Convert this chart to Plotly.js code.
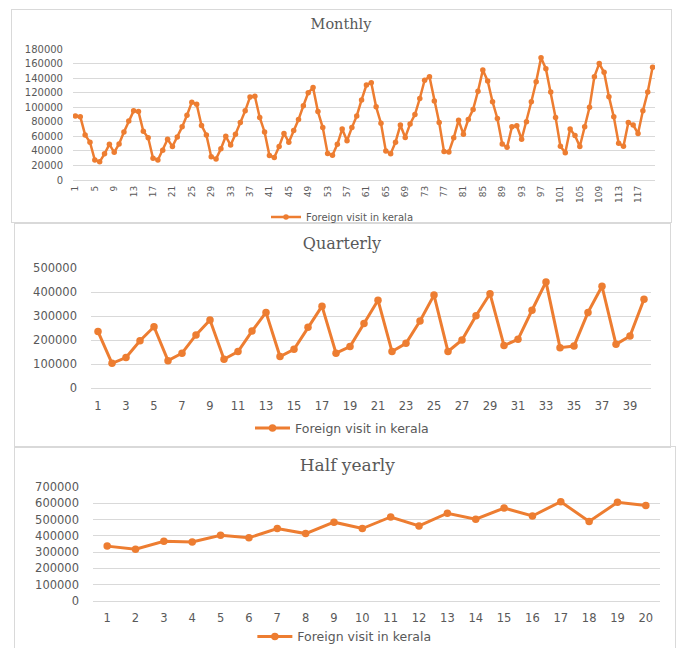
<!DOCTYPE html>
<html><head><meta charset="utf-8">
<script src="https://cdn.plot.ly/plotly-3.0.1.min.js"></script>
<style>
html,body{margin:0;padding:0;background:#fff;width:680px;height:648px;overflow:hidden;}
.frame{position:absolute;outline:1px solid #d9d9d9;}
.plot{position:absolute;}
</style></head><body>
<div class="frame" style="left:12px;top:10px;width:659px;height:212px"></div>
<div class="frame" style="left:15px;top:224px;width:655px;height:223px"></div>
<div class="frame" style="left:15px;top:447px;width:660px;height:230px"></div>
<div id="m" class="plot" style="left:12px;top:10px;width:659px;height:270px"></div>
<div id="q" class="plot" style="left:15px;top:224px;width:655px;height:270px"></div>
<div id="h" class="plot" style="left:15px;top:447px;width:660px;height:270px"></div>
<script>
// ---- Data ----
const seriesName = "Foreign visit in kerala";

const monthCats = [1,2,3,4,5,6,7,8,9,10,11,12,13,14,15,16,17,18,19,20,21,22,23,24,25,26,27,28,29,30,
31,32,33,34,35,36,37,38,39,40,41,42,43,44,45,46,47,48,49,50,51,52,53,54,55,56,57,58,59,60,
61,62,63,64,65,66,67,68,69,70,71,72,73,74,75,76,77,78,79,80,81,82,83,84,85,86,87,88,89,90,
91,92,93,94,95,96,97,98,99,100,101,102,103,104,105,106,107,108,109,110,111,112,113,114,115,116,117,118,119,120];
const monthVals = [88000,87000,62000,52000,27500,25000,36000,49000,38000,49500,66000,81000,
95000,94000,67000,58000,30000,27500,41000,56000,46000,59000,73000,89000,
107000,104000,75000,62000,32000,29000,43000,60000,48000,63000,79000,95000,
114000,115000,86000,66000,33500,31000,46000,64000,52000,68000,83000,102000,
120000,127000,94000,72000,36500,34000,49000,70000,54000,72000,88000,110000,
130500,133500,100500,78000,40000,36000,52000,75500,58500,77000,90000,112000,
137000,142000,108500,79000,39000,38500,58000,82000,63000,83000,97000,122000,
151000,136000,107500,84500,49500,45000,73000,74500,56000,80000,107500,135000,
168000,153000,121000,86000,46500,37500,70000,61000,46000,73000,100000,142000,
160000,148000,114500,87000,50500,46500,79000,75500,64000,95000,121000,155000];
const monthTicks = [1,5,9,13,17,21,25,29,33,37,41,45,49,53,57,61,65,69,73,77,81,85,89,93,97,101,105,109,113,117];
const monthTickText = ["1","5","9","13","17","21","25","29","33","37","41","45","49","53","57","61","65","69","73","77","81","85","89","93","97","101","105","109","113","117"];

const quarterCats = [1,2,3,4,5,6,7,8,9,10,11,12,13,14,15,16,17,18,19,20,21,22,23,24,25,26,27,28,29,30,31,32,33,34,35,36,37,38,39,40];
const quarterVals = [235000,103000,127000,197000,255000,114000,145000,221000,283000,120000,
152000,237000,315000,131000,161000,253000,341000,145000,173000,269000,
366000,152000,186000,279000,387000,152000,200000,301000,393000,177000,
203000,324000,442000,168000,175000,315000,424000,182000,217000,370000];
const quarterTicks = [1,3,5,7,9,11,13,15,17,19,21,23,25,27,29,31,33,35,37,39];
const quarterTickText = ["1","3","5","7","9","11","13","15","17","19","21","23","25","27","29","31","33","35","37","39"];

const halfCats = [1,2,3,4,5,6,7,8,9,10,11,12,13,14,15,16,17,18,19,20];
const halfVals = [337000,318000,367000,363000,404000,388000,445000,414000,484000,445000,
516000,461000,539000,502000,571000,522000,610000,488000,606000,586000];
const halfTickText = ["1","2","3","4","5","6","7","8","9","10","11","12","13","14","15","16","17","18","19","20"];

// ---- Style ----
const ORANGE = "#ED7D31";
const GRAY = "#595959";
const GRID = "#d9d9d9";
const SANS = "DejaVu Sans";
const SERIF = "DejaVu Serif";

function makeChart(id, cfg) {
  const trace = {
    x: cfg.x, y: cfg.y, type: "scatter", mode: "lines+markers", name: seriesName,
    line: {color: ORANGE, width: cfg.lw}, marker: {color: ORANGE, size: cfg.ms},
    showlegend: true, hoverinfo: "skip"
  };
  const layout = {
    width: cfg.w, height: cfg.h, margin: cfg.margin,
    paper_bgcolor: "rgba(0,0,0,0)", plot_bgcolor: "rgba(0,0,0,0)",
    showlegend: true,
    title: {text: cfg.title, x: cfg.titleX, xref: "paper", xanchor: "center",
            y: cfg.titleY, yref: "container", yanchor: "middle",
            font: {family: SERIF, size: cfg.titleSize, color: GRAY}},
    xaxis: {range: cfg.xrange, tickmode: "array", tickvals: cfg.tickvals, ticktext: cfg.ticktext,
            tickangle: cfg.tickangle, showgrid: false, zeroline: false, showline: false, ticks: "",
            ticklabelstandoff: cfg.xstand,
            tickfont: {family: SANS, size: cfg.xfs, color: GRAY}},
    yaxis: {range: cfg.yrange, tick0: 0, dtick: cfg.dtick, tickformat: "d",
            gridcolor: GRID, gridwidth: 1, zeroline: true, zerolinecolor: GRID, zerolinewidth: 1,
            showline: false, ticks: "", ticklabelstandoff: cfg.ystand,
            tickfont: {family: SANS, size: cfg.yfs, color: GRAY}},
    legend: {orientation: "h", x: cfg.legX, xanchor: "left", y: cfg.legY, yanchor: "middle",
             itemwidth: cfg.itemW,
             bgcolor: "rgba(0,0,0,0)", font: {family: SANS, size: cfg.legFs, color: GRAY}}
  };
  Plotly.newPlot(id, [trace], layout, {staticPlot: true, displayModeBar: false});
}

// Monthly: plot area x 73-655, y 49-180 (page px)
makeChart("m", {
  x: monthCats, y: monthVals, lw: 2.5, ms: 5.5,
  w: 659, h: 270, margin: {l: 61, r: 16, t: 39, b: 100, pad: 0},
  title: "Monthly", titleX: (341 - 73) / 582, titleY: 1 - 14 / 270, titleSize: 14.5,
  xrange: [0.5, 120.5], tickvals: monthTicks, ticktext: monthTickText, tickangle: -90, xstand: 3, xfs: 9,
  yrange: [0, 180000], dtick: 20000, ystand: 9, yfs: 10,
  legX: (266 - 73) / 582, legY: (180 - 217) / 131, legFs: 10, itemW: 30
});

// Quarterly: plot area x 91-651, y 267.5-388.3
makeChart("q", {
  x: quarterCats, y: quarterVals, lw: 3, ms: 7.5,
  w: 655, h: 270, margin: {l: 76, r: 19, t: 43.5, b: 105.7, pad: 0},
  title: "Quarterly", titleX: (342 - 91) / 560, titleY: 1 - 19 / 270, titleSize: 16,
  xrange: [0.5, 40.5], tickvals: quarterTicks, ticktext: quarterTickText, tickangle: 0, xstand: 9, xfs: 11.5,
  yrange: [0, 500000], dtick: 100000, ystand: 13, yfs: 11.5,
  legX: (250 - 91) / 560, legY: (388.3 - 429) / 120.8, legFs: 12.5, itemW: 35
});

// Half yearly: plot area x 92.5-660, y 486.7-601
makeChart("h", {
  x: halfCats, y: halfVals, lw: 3, ms: 7.5,
  w: 660, h: 270, margin: {l: 77.5, r: 15, t: 39.7, b: 116, pad: 0},
  title: "Half yearly", titleX: (347 - 92.5) / 567.5, titleY: 1 - 18 / 270, titleSize: 17,
  xrange: [0.5, 20.5], tickvals: halfCats, ticktext: halfTickText, tickangle: 0, xstand: 8, xfs: 11.5,
  yrange: [0, 700000], dtick: 100000, ystand: 13, yfs: 11.5,
  legX: (252 - 92.5) / 567.5, legY: (601 - 637) / 114.3, legFs: 12.5, itemW: 35
});
</script>
</body></html>
